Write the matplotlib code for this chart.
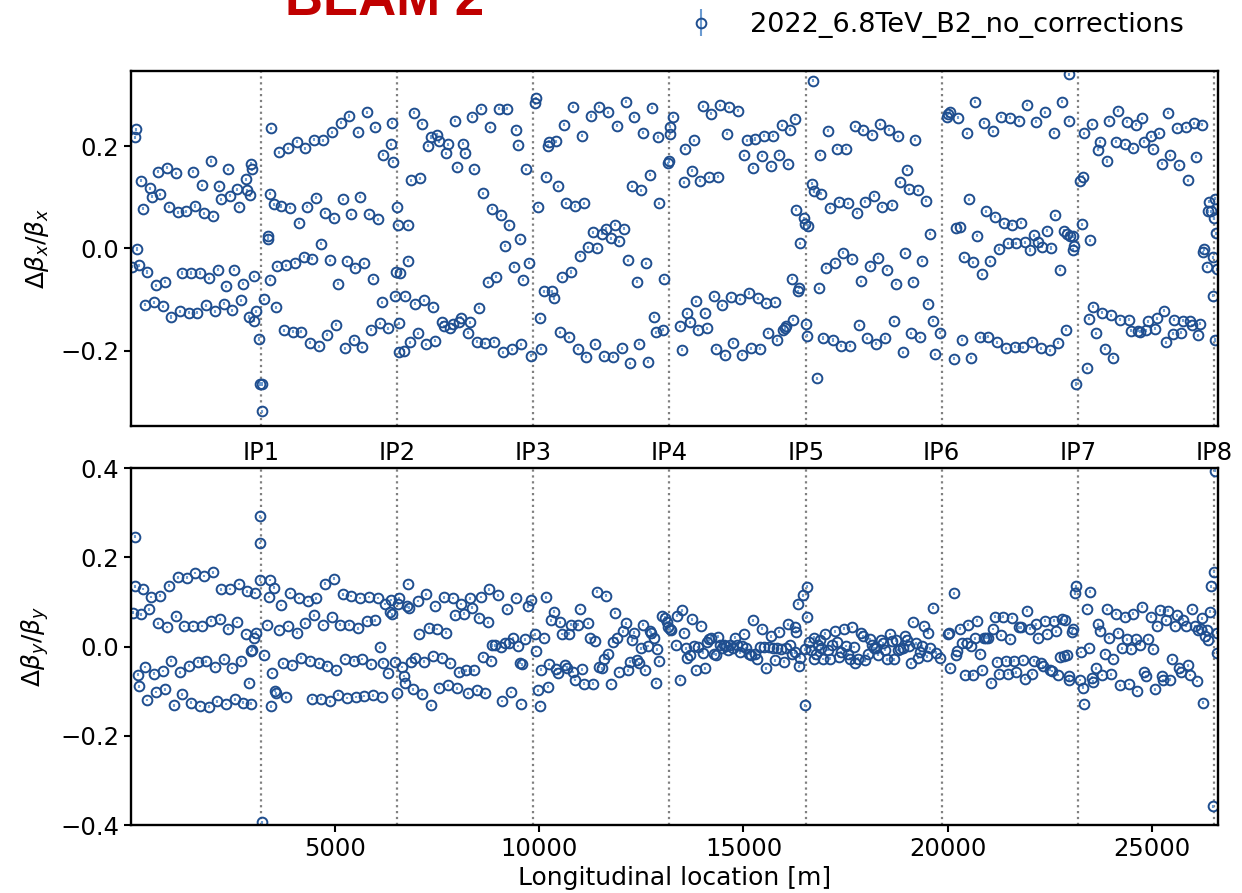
import matplotlib.pyplot as plt

# IP positions along the ring [m]
ip_names = ["IP1", "IP2", "IP3", "IP4", "IP5", "IP6", "IP7", "IP8"]
ip_s = [3190, 6530, 9860, 13190, 16530, 19850, 23190, 26515]

# horizontal beta-beating
bx_s = [
    125, 108, 165, 27, 247, 304, 222, 353, 467, 516,
    410, 630, 581, 679, 736, 842, 793, 899, 940, 1005,
    1111, 1160, 1266, 1217, 1371, 1429, 1477, 1543, 1592, 1640,
    1697, 1755, 1803, 1852, 1918, 1966, 2023, 2064, 2138, 2178,
    2227, 2284, 2333, 2390, 2447, 2496, 2545, 2610, 2667, 2716,
    2765, 2822, 2863, 2896, 2936, 2961, 2977, 3018, 3034, 3067,
    3140, 3181, 3222, 3213, 3270, 3360, 3376, 3409, 3442, 3425,
    3507, 3564, 3588, 3637, 3694, 3751, 3808, 3857, 3914, 3971,
    4020, 4069, 4118, 4183, 4240, 4281, 4330, 4387, 4444, 4501,
    4550, 4607, 4664, 4721, 4762, 4811, 4876, 4933, 4982, 5031,
    5080, 5145, 5194, 5243, 5292, 5357, 5406, 5463, 5504, 5569,
    5618, 5675, 5724, 5781, 5838, 5887, 5935, 5993, 6050, 6098,
    6147, 6188, 6302, 6367, 6400, 6416, 6465, 6498, 6522, 6547,
    6563, 6579,
    6603, 6685, 6709, 6791, 6800, 6840, 6872, 6929, 6970, 7027,
    7076, 7133, 7190, 7239, 7288, 7345, 7402, 7451, 7508, 7549,
    7614, 7663, 7712, 7769, 7826, 7883, 7932, 7981, 8029, 8095,
    8144, 8193, 8250, 8315, 8356, 8413, 8478, 8519, 8576, 8624,
    8681, 8739, 8787, 8844, 8893, 8950, 9008, 9056, 9105, 9162,
    9219, 9268, 9325, 9374, 9431, 9480, 9521, 9562, 9594, 9668,
    9741, 9806, 9888, 9912, 9985, 10018, 10051, 10124, 10165, 10206,
    10246, 10312, 10360, 10417, 10458, 10515, 10572, 10621, 10670, 10727,
    10784, 10841, 10890, 10947, 10996, 11053, 11110, 11159, 11208, 11273,
    11322, 11371, 11428, 11477, 11542, 11591, 11640, 11697, 11754, 11803,
    11852, 11909, 11966, 12023, 12072, 12121, 12186, 12235, 12284, 12333,
    12398, 12439, 12496, 12545, 12610, 12659, 12708, 12756, 12814, 12854,
    12903, 12928, 13042, 13066, 13164, 13180, 13205, 13213, 13286,
    13458, 13498, 13539, 13580, 13629, 13686, 13735, 13792, 13849, 13898,
    13947, 14004, 14061, 14118, 14167, 14216, 14273, 14330, 14378, 14436,
    14484, 14541, 14590, 14647, 14696, 14753, 14859, 14916, 14973, 15022,
    15079, 15128, 15185, 15242, 15291, 15348, 15405, 15454, 15503, 15560,
    15609, 15666, 15715, 15772, 15821, 15878, 15935, 15968, 16009, 16049,
    16090, 16139, 16180, 16220, 16253, 16294, 16326, 16351, 16375, 16481,
    16497, 16579, 16538, 16563, 16677, 16718, 16701, 16791, 16840, 16864,
    16905, 16954, 17019, 17076, 17125, 17182, 17231, 17288, 17345, 17386,
    17443, 17508, 17557, 17606, 17663, 17720, 17769, 17818, 17867, 17932,
    17981, 18030, 18087, 18144, 18201, 18250, 18299, 18348, 18396, 18462,
    18511, 18568, 18625, 18674, 18731, 18779, 18820, 18893, 18942, 18991,
    19048, 19105, 19154, 19203, 19269, 19326, 19366, 19472, 19513, 19562,
    19643, 19692, 19798,
    19970, 20003, 20043, 20149, 20206, 20247, 20288, 20345, 20394, 20459,
    20508, 20557, 20614, 20671, 20720, 20777, 20826, 20891, 20940, 20989,
    21038, 21095, 21160, 21201, 21258, 21307, 21364, 21421, 21470, 21527,
    21575, 21633, 21681, 21738, 21795, 21844, 21901, 21950, 22007, 22056,
    22113, 22162, 22219, 22276, 22317, 22374, 22431, 22496, 22537, 22594,
    22635, 22700, 22757, 22806, 22839, 22880, 22912, 22961, 22977, 23002,
    23059, 23065, 23100, 23140, 23246, 23279, 23319, 23328, 23409, 23450,
    23491, 23531, 23564, 23637, 23686, 23727, 23784, 23841, 23898, 23947,
    24004, 24053, 24110, 24159, 24208, 24330, 24379, 24436, 24485, 24542,
    24599, 24648, 24697, 24754, 24811, 24860, 24909, 24966, 25023, 25072,
    25121, 25178, 25235, 25284, 25341, 25382, 25447, 25504, 25545, 25601,
    25659, 25716, 25764, 25822, 25870, 25928, 25976, 26033, 26082, 26131,
    26180, 26229, 26254, 26278, 26343, 26359, 26400, 26441, 26482, 26490,
    26506, 26538, 26538, 26571, 26580,
]
bx_val = [
    0.233, 0.217, -0.001, -0.036, 0.132, 0.078, -0.033, -0.110, 0.118, 0.101,
    -0.046, -0.072, -0.105, 0.150, 0.106, -0.065, -0.113, 0.158, 0.082, -0.134,
    0.147, 0.071, -0.048, -0.123, 0.073, -0.126, -0.048, 0.150, 0.083, -0.126,
    -0.048, 0.124, 0.069, -0.111, -0.058, 0.171, 0.063, -0.123, -0.042, 0.122,
    0.096, -0.108, -0.074, 0.155, 0.103, -0.121, -0.042, 0.116, 0.082, -0.101,
    -0.069, 0.135, 0.114, -0.134, 0.104, 0.166, 0.155, -0.141, -0.054, -0.123,
    -0.177, -0.265, -0.265, -0.318, -0.099, 0.019, 0.024, -0.061, 0.235, 0.107,
    0.086, -0.115, -0.035, 0.188, 0.083, -0.160, -0.033, 0.196, 0.080, -0.163,
    -0.028, 0.209, 0.050, -0.163, -0.016, 0.196, 0.082, -0.184, -0.020, 0.213,
    0.099, -0.191, 0.009, 0.212, 0.070, -0.169, -0.023, 0.227, 0.059, -0.149,
    -0.069, 0.246, 0.096, -0.195, -0.025, 0.259, 0.067, -0.178, -0.038, 0.227,
    0.101, -0.193, -0.029, 0.266, 0.067, -0.159, -0.059, 0.237, 0.057, -0.146,
    -0.105, 0.183, -0.156, 0.204, 0.246, 0.170, -0.093, -0.046, 0.081, 0.045,
    -0.146, -0.203,
    -0.048, -0.200, -0.093, 0.045, -0.024, -0.183, 0.133, 0.265, -0.108, -0.166,
    0.137, 0.244, -0.101, -0.187, 0.201, 0.218, -0.115, -0.180, 0.222, 0.210,
    -0.144, -0.152, 0.186, 0.204, -0.156, -0.148, 0.250, 0.159, -0.144, -0.135,
    0.205, 0.186, -0.165, -0.144, 0.258, 0.155, -0.182, -0.116, 0.273, 0.108,
    -0.185, -0.066, 0.237, 0.078, -0.182, -0.055, 0.273, 0.065, -0.203, 0.005,
    0.273, 0.045, -0.197, -0.036, 0.232, 0.202, 0.018, -0.187, -0.061, 0.155,
    -0.028, -0.210, 0.284, 0.294, 0.082, -0.136, -0.196, -0.084, 0.140, 0.201,
    0.209, -0.084, -0.097, 0.210, 0.122, -0.164, -0.056, 0.242, 0.088, -0.174,
    -0.046, 0.277, 0.083, -0.196, -0.014, 0.220, 0.088, -0.212, 0.002, 0.259,
    0.032, -0.187, 0.000, 0.277, 0.029, -0.211, 0.039, 0.266, 0.020, -0.212,
    0.046, 0.240, 0.014, -0.195, 0.039, 0.287, -0.023, -0.224, 0.122, 0.258,
    -0.065, -0.186, 0.114, 0.226, -0.029, -0.221, 0.144, 0.275, -0.133, -0.164,
    0.218, 0.088, -0.159, -0.059, 0.167, 0.171, 0.224, 0.238, 0.258,
    -0.152, -0.198, 0.129, 0.195, -0.127, -0.144, 0.152, 0.212, -0.103, -0.159,
    0.132, 0.278, -0.127, -0.156, 0.139, 0.263, -0.093, -0.196, 0.140, 0.280,
    -0.111, -0.209, 0.224, 0.276, -0.095, -0.184, 0.269, -0.099, -0.208, 0.182,
    0.212, -0.087, -0.195, 0.158, 0.214, -0.097, -0.196, 0.181, 0.220, -0.107,
    -0.165, 0.161, 0.220, -0.105, -0.179, 0.183, 0.241, -0.160, -0.156, -0.152,
    0.165, 0.232, -0.059, -0.139, 0.254, 0.076, -0.084, -0.077, 0.010, 0.059,
    0.048, 0.044, -0.147, -0.171, 0.127, 0.112, 0.328, -0.254, -0.078, 0.183,
    0.107, -0.175, -0.038, 0.230, 0.080, -0.179, -0.028, 0.195, 0.091, -0.190,
    -0.008, 0.195, 0.088, -0.190, -0.021, 0.239, 0.070, -0.150, -0.064, 0.231,
    0.091, -0.176, -0.035, 0.222, 0.103, -0.186, -0.018, 0.243, 0.082, -0.175,
    -0.042, 0.232, 0.085, -0.142, -0.069, 0.219, 0.129, -0.203, -0.009, 0.154,
    0.116, -0.166, -0.065, 0.213, 0.114, -0.174, -0.024, 0.093, -0.108, 0.029,
    -0.141, -0.207, -0.165,
    0.258, 0.263, 0.267, -0.216, 0.041, 0.256, 0.042, -0.178, -0.017, 0.225,
    0.096, -0.214, -0.027, 0.287, 0.025, -0.174, -0.050, 0.246, 0.073, -0.173,
    -0.025, 0.229, 0.062, -0.183, -0.001, 0.258, 0.049, -0.195, 0.010, 0.256,
    0.046, -0.192, 0.010, 0.250, 0.050, -0.193, 0.012, 0.281, -0.003, -0.182,
    0.026, 0.248, 0.012, -0.195, 0.003, 0.266, 0.035, -0.199, 0.001, 0.226,
    0.065, -0.184, -0.042, 0.287, 0.035, -0.159, 0.029, 0.250, 0.341, 0.024,
    0.024, -0.002, 0.005, -0.265, 0.132, 0.047, 0.140, 0.225, -0.234, -0.137,
    0.016, 0.243, -0.114, -0.166, 0.193, 0.209, -0.126, -0.196, 0.171, 0.250,
    -0.131, -0.214, 0.209, 0.269, -0.139, 0.204, 0.248, -0.139, -0.161, 0.196,
    0.242, -0.161, -0.163, 0.255, 0.209, -0.160, -0.142, 0.219, 0.194, -0.157,
    -0.136, 0.225, 0.166, -0.122, -0.183, 0.265, 0.182, -0.167, -0.139, 0.235,
    0.163, -0.165, -0.141, 0.237, 0.133, -0.142, -0.150, 0.245, 0.179, -0.170,
    -0.147, 0.242, -0.007, -0.001, -0.036, 0.073, 0.091, 0.073, -0.017, -0.092,
    0.059, 0.097, -0.179, 0.030, -0.041,
]

# vertical beta-beating
by_s = [
    123, 123, 57, 204, 180, 253, 310, 367, 408, 465,
    514, 579, 628, 677, 734, 791, 840, 897, 946, 1003,
    1060, 1109, 1158, 1215, 1272, 1321, 1378, 1427, 1484, 1541,
    1590, 1647, 1704, 1753, 1810, 1858, 1916, 1964, 2021, 2070,
    2127, 2184, 2225, 2282, 2339, 2396, 2445, 2494, 2551, 2608,
    2657, 2714, 2763, 2820, 2861, 2894, 2942, 2959, 2983, 3016,
    3040, 3065, 3162, 3179, 3179, 3220, 3268, 3350, 3382, 3407,
    3440, 3464, 3513, 3537, 3570, 3635, 3684, 3741, 3798, 3847,
    3896, 3953, 4067, 4116, 4173, 4279, 4336, 4393, 4442, 4499,
    4548, 4605, 4662, 4711, 4760, 4817, 4874, 4923, 4980, 5029,
    5078, 5135, 5192, 5249, 5298, 5355, 5404, 5461, 5510, 5567,
    5616, 5673, 5722, 5778, 5835, 5884, 5942, 5990, 6047, 6096,
    6153, 6170, 6219, 6308, 6357, 6374, 6398, 6463, 6520, 6545,
    6561, 6643, 6691, 6708, 6765, 6789, 6822, 6871, 6912, 6969,
    7026, 7066, 7131, 7189, 7238, 7295, 7352, 7401, 7449, 7506,
    7555, 7612, 7661, 7718, 7767, 7824, 7881, 7930, 7987, 8036,
    8093, 8150, 8199, 8256, 8313, 8362, 8419, 8476, 8525, 8574,
    8631, 8680, 8745, 8786, 8843, 8827,
    8998, 8932, 9063, 9103, 9161, 9218, 9266, 9315, 9364, 9429,
    9487, 9527, 9592, 9552, 9666, 9731, 9812, 9894, 9918, 9975,
    10016, 10057, 10122, 10163, 10220, 10253, 10285, 10358, 10416, 10465,
    10522, 10562, 10627, 10676, 10734, 10782, 10839, 10888, 10945, 11002,
    11059, 11108, 11198, 11255, 11320, 11369, 11418, 11467, 11532, 11589,
    11638, 11687, 11752, 11801, 11850, 11899, 11956, 12062, 12119, 12176,
    12225, 12282, 12331, 12388, 12437, 12494, 12543, 12600, 12657, 12706,
    12746, 12804, 12853, 12893, 12926, 13007, 13073, 13130, 13154, 13195,
    13236, 13341, 13374, 13456, 13505, 13545, 13586, 13627, 13684, 13741,
    13782, 13847, 13887, 13953, 14010, 14067, 14108, 14156, 14213, 14270,
    14319, 14377, 14434, 14482, 14523, 14580, 14621, 14678, 14743, 14800,
    14849, 14906, 14963, 15012, 15069, 15126, 15175, 15232, 15273, 15338,
    15395, 15452, 15493, 15558, 15615, 15664, 15721, 15762, 15819, 15876,
    15925, 15982, 16031, 16088, 16145, 16186, 16251, 16292, 16267, 16357,
    16373, 16333, 16455, 16553, 16561, 16512, 16496, 16593, 16659, 16716,
    16716, 16765, 16822, 16863, 16903, 16944, 17001, 17066, 17107, 17164,
    17229, 17286, 17335, 17392, 17449, 17498, 17555, 17595, 17661, 17702,
    17718,
    17808, 17874, 17922, 17979, 18037, 18094, 18134, 18200, 18240, 18297,
    18363, 18403, 18460, 18509, 18574, 18631, 18672, 18729, 18786, 18835,
    18892, 18941, 18990, 19055, 19104, 19153, 19218, 19275, 19324, 19381,
    19422, 19487, 19520, 19569, 19650, 19707, 19813, 19993, 20033, 20066,
    20164, 20196, 20237, 20294, 20343, 20416, 20465, 20506, 20563, 20628,
    20669, 20726, 20783, 20832, 20889, 20946, 20995, 21052, 21101, 21150,
    21199, 21256, 21313, 21362, 21419, 21476, 21525, 21582, 21622, 21680,
    21745, 21794, 21851, 21891, 21949, 22006, 22062, 22103, 22168, 22217,
    22274, 22323, 22380, 22438, 22495, 22543, 22601, 22649, 22706, 22747,
    22804, 22845, 22869, 22927, 22967, 22975, 23049, 23073, 23106, 23130,
    23236, 23269, 23310, 23334, 23416, 23456, 23481, 23538, 23562, 23619,
    23676, 23725, 23782, 23839, 23888, 23945, 24002, 24051, 24108, 24165,
    24214, 24271, 24328, 24377, 24434, 24475, 24540, 24597, 24638, 24695,
    24752, 24801, 24858, 24907, 24964, 25021, 25062, 25127, 25185, 25233,
    25274, 25331, 25388, 25437, 25494, 25551, 25608, 25657, 25698, 25763,
    25820, 25877, 25926, 25983, 26040, 26089, 26129, 26187, 26227, 26252,
    26285, 26334, 26375, 26416, 26431, 26496, 26513, 26537, 26578, 26594,
]
by_val = [
    0.246, 0.135, 0.076, -0.089, -0.063, 0.072, 0.129, -0.046, -0.120, 0.083,
    0.111, -0.061, -0.102, 0.052, 0.114, -0.055, -0.096, 0.044, 0.136, -0.032,
    -0.132, 0.068, 0.155, -0.058, -0.107, 0.046, 0.154, -0.043, -0.126, 0.046,
    0.165, -0.034, -0.133, 0.046, 0.158, -0.033, -0.135, 0.058, 0.166, -0.046,
    -0.123, 0.061, 0.128, -0.029, -0.129, 0.040, 0.129, -0.048, -0.118, 0.055,
    0.140, -0.032, -0.126, 0.028, 0.124, -0.081, -0.128, -0.010, -0.007, 0.020,
    0.120, 0.031, 0.232, 0.292, 0.150, -0.394, -0.020, 0.048, 0.111, 0.149,
    -0.134, -0.059, 0.132, -0.099, -0.105, 0.037, 0.093, -0.038, -0.114, 0.046,
    0.120, -0.042, 0.031, 0.109, -0.025, 0.052, 0.102, -0.032, -0.117, 0.070,
    0.108, -0.038, -0.117, 0.048, 0.141, -0.043, -0.123, 0.066, 0.152, -0.053,
    -0.108, 0.049, 0.117, -0.028, -0.115, 0.049, 0.113, -0.032, -0.113, 0.041,
    0.109, -0.028, -0.111, 0.057, 0.111, -0.040, -0.109, 0.059, 0.109, -0.002,
    -0.113, -0.036, 0.095, -0.059, 0.078, 0.104, 0.072, -0.034, -0.104, 0.096,
    0.109, -0.046, -0.066, -0.081, 0.090, 0.140, 0.087, -0.034, -0.096, -0.025,
    0.102, 0.028, -0.107, -0.034, 0.117, 0.042, -0.132, -0.021, 0.091, 0.039,
    -0.092, -0.025, 0.110, 0.031, -0.087, -0.038, 0.109, 0.070, -0.094, -0.058,
    0.095, 0.074, -0.053, -0.105, 0.108, 0.087, -0.053, -0.098, 0.065, 0.111,
    -0.023, -0.105, 0.054, 0.128, 0.003, -0.032,
    0.115, 0.003, -0.001, -0.122, 0.007, 0.083, 0.007, -0.102, 0.018, 0.109,
    0.001, -0.036, -0.040, -0.129, 0.016, 0.090, 0.104, 0.027, -0.010, -0.098,
    -0.133, -0.052, 0.019, 0.110, -0.090, -0.040, 0.059, 0.078, -0.051, -0.059,
    0.054, 0.028, -0.042, -0.047, 0.029, 0.049, -0.057, -0.075, 0.049, 0.084,
    -0.051, -0.083, 0.052, 0.018, -0.083, 0.013, 0.123, -0.046, -0.049, -0.027,
    0.114, -0.016, -0.084, 0.010, 0.076, 0.018, -0.057, 0.034, 0.052, -0.053,
    -0.034, 0.014, 0.031, -0.031, -0.038, -0.004, 0.049, -0.053, 0.001, 0.034,
    0.031, 0.020, -0.081, -0.006, -0.033, 0.069, 0.065, 0.055, 0.044, 0.039,
    0.037, 0.003, 0.069, -0.074, 0.081, 0.031, -0.004, -0.025, -0.019, 0.061,
    0.001, -0.053, -0.001, 0.046, -0.014, -0.049, 0.010, 0.016, 0.020, -0.016,
    -0.018, 0.022, 0.003, -0.004, 0.003, 0.001, -0.008, 0.003, -0.004, 0.020,
    0.003, -0.013, 0.001, 0.028, -0.004, -0.016, -0.019, 0.059, -0.016, -0.027,
    -0.001, 0.040, -0.001, -0.049, -0.001, 0.023, -0.004, -0.031, -0.004, 0.033,
    -0.006, -0.034, -0.004, 0.050, 0.003, -0.016, 0.044, 0.033, -0.013, -0.044,
    -0.025, 0.096, 0.115, 0.134, 0.067, -0.132, -0.006, 0.010, -0.008, 0.020,
    -0.027, -0.016, 0.003, 0.014, -0.004, -0.028, 0.029, -0.008, -0.027, 0.003,
    0.034, 0.010, -0.023, -0.012, 0.040, 0.001, -0.017, -0.027, 0.044, -0.001,
    -0.037,
    -0.027, 0.031, 0.023, -0.031, -0.017, 0.016, 0.003, -0.004, -0.003, -0.019,
    0.014, 0.007, -0.008, -0.029, 0.028, 0.013, -0.029, 0.014, -0.008, -0.006,
    -0.003, 0.023, 0.014, 0.001, -0.038, 0.055, 0.007, -0.025, -0.012, 0.001,
    0.046, -0.022, 0.031, -0.004, 0.087, -0.014, -0.025, 0.029, 0.030, -0.049,
    0.119, -0.019, -0.010, 0.040, 0.007, -0.064, 0.009, 0.049, 0.001, -0.063,
    0.018, 0.058, -0.016, -0.053, 0.020, 0.020, 0.020, -0.081, 0.039, 0.067,
    -0.034, -0.061, 0.025, 0.067, -0.032, -0.061, 0.016, 0.065, -0.032, -0.058,
    0.043, 0.043, -0.031, -0.072, 0.080, 0.040, -0.061, -0.032, 0.050, 0.018,
    -0.037, -0.044, 0.058, 0.028, -0.052, -0.055, 0.058, 0.034, -0.064, -0.023,
    0.061, -0.022, 0.059, -0.019, -0.066, -0.074, 0.033, 0.040, 0.119, 0.135,
    -0.075, -0.012, -0.092, -0.129, 0.084, -0.003, 0.123, -0.070, -0.079, -0.049,
    0.050, 0.035, -0.064, -0.016, 0.083, 0.020, -0.062, -0.028, 0.074, 0.031,
    -0.087, -0.004, 0.067, 0.016, -0.084, -0.006, 0.074, 0.016, -0.100, 0.004,
    0.089, -0.057, -0.066, 0.016, 0.067, -0.006, -0.096, 0.046, 0.081, -0.066,
    -0.075, 0.059, 0.080, -0.074, -0.029, 0.046, 0.070, -0.047, -0.058, 0.060,
    0.046, -0.042, -0.064, 0.083, 0.046, -0.077, 0.037, 0.039, 0.063, -0.126,
    0.024, 0.037, 0.014, 0.078, 0.135, -0.358, 0.167, 0.394, 0.031, -0.014,
]

label = "2022_6.8TeV_B2_no_corrections"
dark = "#1f4e8f"
light = "#6b9bd1"

fig = plt.figure(figsize=(12.42, 8.93), dpi=100)
ax1 = fig.add_axes([0.1055, 0.5230, 0.8748, 0.3975])
ax2 = fig.add_axes([0.1055, 0.0761, 0.8748, 0.3998])

for ax, s, v in [(ax1, bx_s, bx_val), (ax2, by_s, by_val)]:
    for x in ip_s:
        ax.axvline(x, color="grey", ls=":", lw=1.6, zorder=0)
    ax.errorbar(s, v, yerr=0.003, fmt="o", ms=7, mfc="none", mec=dark,
                mew=1.4, ecolor=light, elinewidth=1.5, capsize=0, label=label)
    ax.set_xlim(15, 26600)
    for sp in ax.spines.values():
        sp.set_linewidth(1.7)
    ax.tick_params(direction="out", length=5, width=1.5, labelsize=17.5)

# top panel: IP names as x tick labels
ax1.set_ylim(-0.347, 0.347)
ax1.set_yticks([-0.2, 0.0, 0.2])
ax1.set_xticks(ip_s)
ax1.set_xticklabels(ip_names)
ax1.tick_params(axis="x", length=0, pad=11)
ax1.set_ylabel(r"$\Delta\beta_x/\beta_x$", fontsize=18)
ax1.yaxis.set_label_coords(-0.0735, 0.5)

ax2.set_ylim(-0.4, 0.4)
ax2.set_yticks([-0.4, -0.2, 0.0, 0.2, 0.4])
ax2.set_xticks([5000, 10000, 15000, 20000, 25000])
ax2.set_ylabel(r"$\Delta\beta_y/\beta_y$", fontsize=18)
ax2.yaxis.set_label_coords(-0.0735, 0.5)
ax2.set_xlabel("Longitudinal location [m]", fontsize=18)
ax2.xaxis.set_label_coords(0.5, -0.115)

handles, labels = ax1.get_legend_handles_labels()
fig.legend(handles, labels, loc="center left", bbox_to_anchor=(0.534, 0.972),
           frameon=False, fontsize=19.5, numpoints=1, borderaxespad=0)

# title sits mostly above the canvas, as in the original
fig.text(0.310, 0.983, "BEAM 2", ha="center", va="baseline", fontsize=38,
         fontweight="bold", color="#c00000", family="Liberation Sans")

fig.savefig("out.png", dpi=100)
